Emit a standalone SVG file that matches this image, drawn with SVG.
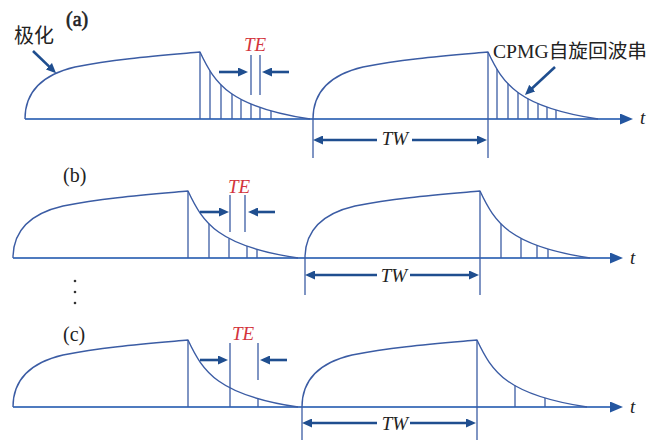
<svg xmlns="http://www.w3.org/2000/svg" xmlns:xlink="http://www.w3.org/1999/xlink" width="664" height="442" viewBox="0 0 664 442">
<style>
.bg{fill:#ffffff}
.curve{fill:none;stroke:#3b5ca4;stroke-width:1.4;stroke-linejoin:round}
.vl{stroke:#3b5ca4;stroke-width:1.3;fill:none}
.axis{stroke:#4f7bbf;stroke-width:1.8;fill:none}
.arr{stroke:#1f4e8f;stroke-width:2.6;fill:none}
.lbl{font-family:"Liberation Serif",serif;font-size:20px;fill:#222222}
.bold{stroke:#222222;stroke-width:0.6}
.it{font-family:"Liberation Serif",serif;font-style:italic;font-size:19px;fill:#222222}
.te{font-family:"Liberation Serif",serif;font-style:italic;font-size:19px;fill:#d3353d}
.cjk{font-family:"Liberation Serif","Noto Sans CJK SC",sans-serif;font-size:19px;fill:#222222}
.cjk2{font-family:"Noto Sans CJK SC",sans-serif;font-size:20px;fill:#222222}
</style>
<defs>
<marker id="ah" viewBox="0 0 10 9" refX="2" refY="4.5" markerWidth="10" markerHeight="9" markerUnits="userSpaceOnUse" orient="auto">
<path d="M0,0 L10,4.5 L0,9 z" fill="#1f4e8f"/>
</marker>
<marker id="axh" viewBox="0 0 13 11" refX="3" refY="5.5" markerWidth="13" markerHeight="11" markerUnits="userSpaceOnUse" orient="auto">
<path d="M0,0 L13,5.5 L0,11 z" fill="#2456a0"/>
</marker>
<path id="pulse" d="M0,0 C0,-30 20,-45 50,-52 C90,-60 130,-63 175,-67 C190,-35 205,-12 285,0"/>
</defs>
<rect class="bg" x="0" y="0" width="664" height="442"/>

<g id="panel-a">
<text class="lbl bold" x="66" y="26">(a)</text>
<text class="cjk2" x="14" y="43">极化</text>
<text class="cjk" x="493" y="58" textLength="154" lengthAdjust="spacingAndGlyphs">CPMG自旋回波串</text>
<line class="axis" x1="25" y1="119" x2="623" y2="119" marker-end="url(#axh)"/>
<text class="it" x="640" y="124">t</text>
<use href="#pulse" class="curve" transform="translate(25,119)"/>
<use href="#pulse" class="curve" transform="translate(313,119)"/>
<g class="vl">
<line x1="200" y1="52" x2="200" y2="119"/>
<line x1="210" y1="70.7" x2="210" y2="119"/>
<line x1="221" y1="84.7" x2="221" y2="119"/>
<line x1="232" y1="93.9" x2="232" y2="119"/>
<line x1="241" y1="99.4" x2="241" y2="119"/>
<line x1="251" y1="104" x2="251" y2="119"/>
<line x1="260" y1="107.4" x2="260" y2="119"/>
<line x1="271" y1="110.9" x2="271" y2="119"/>
<line x1="488" y1="52" x2="488" y2="158"/>
<line x1="497" y1="69.1" x2="497" y2="119"/>
<line x1="508" y1="83.6" x2="508" y2="119"/>
<line x1="518" y1="92.5" x2="518" y2="119"/>
<line x1="528" y1="98.7" x2="528" y2="119"/>
<line x1="538" y1="103.5" x2="538" y2="119"/>
<line x1="547" y1="107.1" x2="547" y2="119"/>
<line x1="556" y1="110.1" x2="556" y2="119"/>
<line x1="313" y1="119" x2="313" y2="158"/>
<line x1="251" y1="55" x2="251" y2="95"/>
<line x1="260" y1="55" x2="260" y2="95"/>
</g>
<text class="te" x="255" y="51" text-anchor="middle">TE</text>
<text class="it" x="395" y="145" text-anchor="middle">TW</text>
</g>

<g id="panel-b">
<text class="lbl" x="63" y="182">(b)</text>
<line class="axis" x1="13" y1="258" x2="613" y2="258" marker-end="url(#axh)"/>
<text class="it" x="630" y="264">t</text>
<use href="#pulse" class="curve" transform="translate(13,258)"/>
<use href="#pulse" class="curve" transform="translate(305,258)"/>
<g class="vl">
<line x1="188" y1="191" x2="188" y2="258"/>
<line x1="209" y1="223.7" x2="209" y2="258"/>
<line x1="229" y1="238.4" x2="229" y2="258"/>
<line x1="247" y1="246.1" x2="247" y2="258"/>
<line x1="257" y1="249.4" x2="257" y2="258"/>
<line x1="480" y1="191" x2="480" y2="295"/>
<line x1="501" y1="223.7" x2="501" y2="258"/>
<line x1="521" y1="238.4" x2="521" y2="258"/>
<line x1="537" y1="245.4" x2="537" y2="258"/>
<line x1="548" y1="249.1" x2="548" y2="258"/>
<line x1="305" y1="258" x2="305" y2="295"/>
<line x1="230" y1="195" x2="230" y2="232"/>
<line x1="245" y1="195" x2="245" y2="232"/>
</g>
<text class="te" x="239" y="193" text-anchor="middle">TE</text>
<text class="it" x="394" y="282" text-anchor="middle">TW</text>
<g fill="#333333">
<circle cx="75" cy="281" r="1.3"/>
<circle cx="75" cy="292" r="1.3"/>
<circle cx="75" cy="303" r="1.3"/>
</g>
</g>

<g id="panel-c">
<text class="lbl" x="63" y="341">(c)</text>
<line class="axis" x1="13" y1="407" x2="613" y2="407" marker-end="url(#axh)"/>
<text class="it" x="630" y="413">t</text>
<use href="#pulse" class="curve" transform="translate(13,407)"/>
<use href="#pulse" class="curve" transform="translate(302,407)"/>
<g class="vl">
<line x1="188" y1="340" x2="188" y2="407"/>
<line x1="230" y1="343" x2="230" y2="407"/>
<line x1="258" y1="398.7" x2="258" y2="407"/>
<line x1="258" y1="343" x2="258" y2="380"/>
<line x1="477" y1="340" x2="477" y2="440"/>
<line x1="515" y1="385.5" x2="515" y2="407"/>
<line x1="545" y1="398.1" x2="545" y2="407"/>
<line x1="302" y1="407" x2="302" y2="440"/>
</g>
<text class="te" x="243" y="340" text-anchor="middle">TE</text>
<text class="it" x="395" y="430" text-anchor="middle">TW</text>
</g>

<g id="connectors">
<line class="arr" x1="33" y1="51" x2="50.3" y2="67.6" marker-end="url(#ah)"/>
<line class="arr" x1="555" y1="67" x2="530.8" y2="89.5" marker-end="url(#ah)"/>
<line class="arr" x1="219" y1="72" x2="240" y2="72" marker-end="url(#ah)"/>
<line class="arr" x1="289" y1="72" x2="270" y2="72" marker-end="url(#ah)"/>
<line class="arr" x1="377" y1="140" x2="321" y2="140" marker-end="url(#ah)"/>
<line class="arr" x1="412" y1="140" x2="479" y2="140" marker-end="url(#ah)"/>
<line class="arr" x1="200" y1="212" x2="221" y2="212" marker-end="url(#ah)"/>
<line class="arr" x1="275" y1="212" x2="256" y2="212" marker-end="url(#ah)"/>
<line class="arr" x1="377" y1="275" x2="313" y2="275" marker-end="url(#ah)"/>
<line class="arr" x1="410" y1="275" x2="471" y2="275" marker-end="url(#ah)"/>
<line class="arr" x1="200" y1="360" x2="220" y2="360" marker-end="url(#ah)"/>
<line class="arr" x1="287" y1="360" x2="268" y2="360" marker-end="url(#ah)"/>
<line class="arr" x1="377" y1="423" x2="310" y2="423" marker-end="url(#ah)"/>
<line class="arr" x1="410" y1="423" x2="468" y2="423" marker-end="url(#ah)"/>
</g>
</svg>
